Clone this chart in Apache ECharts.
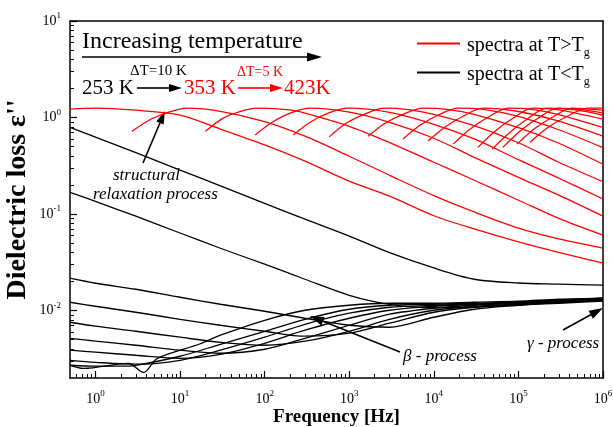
<!DOCTYPE html>
<html>
<head>
<meta charset="utf-8">
<script src="https://cdn.jsdelivr.net/npm/echarts@6/dist/echarts.min.js"></script>
<style>
  html, body { margin: 0; padding: 0; background: #fff; }
  #chart { width: 613px; height: 427px; }
</style>
</head>
<body>
<div id="chart"></div>
<script>
// [frequency in Hz, dielectric loss], one array per temperature
// spectra above Tg (353 K .. 423 K, step 5 K)
const red353 = [[0.5, 1.22], [1, 1.25], [3, 1.19], [10, 1.06], [30, 0.76], [100, 0.52], [300, 0.353], [1e3, 0.219], [3e3, 0.153], [1e4, 0.096], [3e4, 0.070], [1e5, 0.0514], [3e5, 0.040], [1e6, 0.031]];
const red358 = [[2.7, 0.72], [4.5, 0.96], [7, 1.12], [12, 1.25], [30, 1.16], [100, 0.905], [300, 0.64], [1e3, 0.397], [3e3, 0.252], [1e4, 0.155], [3e4, 0.105], [1e5, 0.0714], [3e5, 0.0552], [1e6, 0.0443]];
const red363 = [[20, 0.72], [32, 0.98], [52, 1.16], [84, 1.25], [200, 1.2], [300, 1.11], [1e3, 0.81], [3e3, 0.55], [1e4, 0.344], [3e4, 0.224], [1e5, 0.139], [3e5, 0.090], [1e6, 0.0603]];
const red368 = [[77, 0.66], [123, 0.894], [200, 1.11], [345, 1.25], [1e3, 1.135], [3e3, 0.89], [1e4, 0.61], [3e4, 0.387], [1e5, 0.24], [3e5, 0.157], [1e6, 0.095]];
const red373 = [[218, 0.66], [345, 0.894], [564, 1.11], [970, 1.25], [3e3, 1.13], [1e4, 0.85], [3e4, 0.60], [1e5, 0.366], [3e5, 0.235], [1e6, 0.143]];
const red378 = [[580, 0.63], [920, 0.873], [1500, 1.08], [2580, 1.25], [5000, 1.21], [1e4, 1.08], [3e4, 0.822], [1e5, 0.548], [3e5, 0.344], [1e6, 0.216]];
const red383 = [[1670, 0.64], [2650, 0.873], [4320, 1.08], [7450, 1.25], [1.5e4, 1.21], [3e4, 1.08], [1e5, 0.784], [3e5, 0.541], [1e6, 0.328]];
const red388 = [[4330, 0.60], [6870, 0.833], [11200, 1.056], [19300, 1.25], [4e4, 1.21], [1e5, 1.03], [3e5, 0.747], [1e6, 0.487]];
const red393 = [[8550, 0.57], [13500, 0.793], [22100, 1.03], [38100, 1.25], [1e5, 1.154], [3e5, 0.915], [1e6, 0.64]];
const red398 = [[16900, 0.53], [26700, 0.757], [43700, 1.007], [75200, 1.25], [1.5e5, 1.21], [3e5, 1.074], [1e6, 0.788]];
const red403 = [[33200, 0.49], [52800, 0.721], [86100, 0.983], [148000, 1.25], [3e5, 1.2], [1e6, 0.96]];
const red408 = [[48700, 0.47], [77200, 0.688], [126000, 0.96], [217000, 1.25], [5e5, 1.19], [1e6, 1.05]];
const red413 = [[65600, 0.49], [104000, 0.721], [170000, 0.983], [292000, 1.25], [6e5, 1.2], [1e6, 1.11]];
const red418 = [[96000, 0.53], [152000, 0.757], [249000, 1.0], [429000, 1.25], [1e6, 1.19]];
const red423 = [[137000, 0.555], [217000, 0.775], [354000, 1.0], [661000, 1.25], [1e6, 1.25]];

// spectra below Tg (253 K .. 343 K, step 10 K)
const black253 = [[0.5, 0.00271], [0.72, 0.00252], [2.45, 0.00284], [3.7, 0.00229], [5.4, 0.0032], [17, 0.0045], [30, 0.00555], [100, 0.00793], [300, 0.01007], [1e3, 0.01135], [3e3, 0.0119], [1e4, 0.0119], [3e4, 0.01219], [1e5, 0.01248], [3e5, 0.01309], [1e6, 0.01341]];
const black263 = [[0.5, 0.00271], [1, 0.00265], [2, 0.00265], [3, 0.00271], [10, 0.00336], [30, 0.00447], [100, 0.0061], [300, 0.00812], [1e3, 0.01031], [3e3, 0.01135], [1e4, 0.01162], [3e4, 0.0119], [1e5, 0.01219], [3e5, 0.01278], [1e6, 0.01341]];
const black273 = [[0.5, 0.00305], [1, 0.00291], [3, 0.00278], [10, 0.00305], [30, 0.00388], [100, 0.00529], [300, 0.00721], [1e3, 0.00938], [3e3, 0.01082], [1e4, 0.01135], [3e4, 0.01162], [1e5, 0.01219], [3e5, 0.01278], [1e6, 0.01341]];
const black283 = [[0.5, 0.00388], [1, 0.0037], [3, 0.00344], [10, 0.0032], [30, 0.00352], [100, 0.00458], [300, 0.00625], [1e3, 0.00832], [3e3, 0.01007], [1e4, 0.01108], [3e4, 0.01162], [1e5, 0.0119], [3e5, 0.01248], [1e6, 0.01309]];
const black293 = [[0.5, 0.00516], [1, 0.00481], [3, 0.00437], [10, 0.00388], [30, 0.00361], [100, 0.00397], [300, 0.00516], [1e3, 0.00704], [3e3, 0.00916], [1e4, 0.01056], [3e4, 0.01135], [1e5, 0.0119], [3e5, 0.01248], [1e6, 0.01309]];
const black303 = [[0.5, 0.00756], [1, 0.00688], [3, 0.0061], [10, 0.00529], [30, 0.00469], [100, 0.00437], [300, 0.00481], [1e3, 0.0061], [3e3, 0.00812], [1e4, 0.01007], [3e4, 0.01108], [1e5, 0.01162], [3e5, 0.01219], [1e6, 0.01278]];
const black313 = [[0.5, 0.01219], [1, 0.01108], [3, 0.0096], [10, 0.00812], [30, 0.00704], [100, 0.0061], [300, 0.00542], [1e3, 0.00582], [3e3, 0.00739], [1e4, 0.0096], [3e4, 0.01082], [1e5, 0.01162], [3e5, 0.01219], [1e6, 0.01278]];
const black323 = [[0.5, 0.02162], [1, 0.01918], [3, 0.01662], [10, 0.01373], [30, 0.01162], [100, 0.00983], [300, 0.00832], [1e3, 0.00704], [3e3, 0.00671], [1e4, 0.00852], [3e4, 0.01031], [1e5, 0.01135], [3e5, 0.01219], [1e6, 0.01278]];
const black333 = [[0.5, 0.168], [1, 0.135], [3, 0.0949], [10, 0.0636], [30, 0.0442], [100, 0.0302], [300, 0.0211], [1e3, 0.0144], [3e3, 0.0116], [1e4, 0.0107], [3e4, 0.0108], [1e5, 0.0114], [3e5, 0.0119], [1e6, 0.0125]];
const black343 = [[0.5, 0.79], [1, 0.625], [3, 0.432], [10, 0.285], [30, 0.196], [100, 0.129], [300, 0.0884], [1e3, 0.059], [3e3, 0.0398], [1e4, 0.0276], [3e4, 0.0211], [1e5, 0.0193], [3e5, 0.0188], [1e6, 0.0183]];

const redSpectra = [red353, red358, red363, red368, red373, red378, red383, red388, red393, red398, red403, red408, red413, red418, red423];
const blackSpectra = [black253, black263, black273, black283, black293, black303, black313, black323, black333, black343];

// axis ranges and decade ticks
const xMin = 0.5, xMax = 1e6;
const yMin = 0.002, yMax = 10;
const xDecades = [1, 10, 100, 1e3, 1e4, 1e5, 1e6];
const yDecades = [0.01, 0.1, 1, 10];

const FONT = "'Liberation Serif', 'Times New Roman', serif";
const RED = '#ff0000';
const INK = '#000000';

const lx0 = Math.log10(xMin), lx1 = Math.log10(xMax);
const ly0 = Math.log10(yMin), ly1 = Math.log10(yMax);

function minorTicks(lo, hi) {
  let out = [];
  for (let e = Math.floor(lo) - 1; e <= Math.ceil(hi); e++) {
    for (let k = 2; k <= 9; k++) {
      let v = Math.log10(k) + e;
      if (v > lo + 1e-9 && v < hi - 1e-9) out.push(v);
    }
  }
  return out;
}

function tickLabel(margin) {
  return {
    margin: margin,
    formatter: v => '{b|10}{s|' + Math.round(v) + '}',
    rich: {
      b: { fontFamily: FONT, fontSize: 14, lineHeight: 14, color: INK, verticalAlign: 'middle' },
      s: { fontFamily: FONT, fontSize: 9, lineHeight: 9, color: INK, verticalAlign: 'middle', padding: [0, 0, 10, 0] }
    }
  };
}

function mainAxis(lo, hi, major, pos, name, nameGap, nameSize, labelMargin) {
  return {
    type: 'value', min: lo, max: hi, position: pos,
    name: name, nameLocation: 'middle', nameGap: nameGap, nameMoveOverlap: false,
    nameTextStyle: { fontFamily: FONT, fontWeight: 'bold', fontSize: nameSize, color: INK },
    splitLine: { show: false },
    axisLine: { show: true, onZero: false, lineStyle: { color: INK, width: 1.5 } },
    axisTick: { show: true, inside: true, length: 7, customValues: major, lineStyle: { color: INK, width: 1.2 } },
    axisLabel: Object.assign({ customValues: major }, tickLabel(labelMargin))
  };
}

function minorAxis(lo, hi, pos) {
  return {
    type: 'value', min: lo, max: hi, position: pos,
    splitLine: { show: false },
    axisLine: { show: false, onZero: false },
    axisTick: { show: true, inside: true, length: 4, customValues: minorTicks(lo, hi), lineStyle: { color: INK, width: 1 } },
    axisLabel: { show: false }
  };
}

function frameAxis(lo, hi, pos) {
  return {
    type: 'value', min: lo, max: hi, position: pos,
    splitLine: { show: false },
    axisLine: { show: true, onZero: false, lineStyle: { color: INK, width: 1.5 } },
    axisTick: { show: false },
    axisLabel: { show: false }
  };
}

const toLog = p => [Math.log10(p[0]), Math.log10(p[1])];

let series = [];
blackSpectra.forEach(c => series.push({
  name: 'spectra at T<Tg', type: 'line', data: c.map(toLog),
  showSymbol: false, symbol: 'none', smooth: 0.3, silent: true,
  lineStyle: { color: INK, width: 1.3 }, itemStyle: { color: INK }
}));
redSpectra.forEach(c => series.push({
  name: 'spectra at T>Tg', type: 'line', data: c.map(toLog),
  showSymbol: false, symbol: 'none', smooth: 0.3, silent: true,
  lineStyle: { color: RED, width: 1.3 }, itemStyle: { color: RED }
}));

function label(text, x, y, size, color, italic) {
  return {
    type: 'text', silent: true,
    style: {
      text: text, x: x, y: y, fill: color, verticalAlign: 'middle',
      font: (italic ? 'italic ' : '') + size + 'px ' + FONT
    }
  };
}

function arrow(x1, y1, x2, y2, color, len, half) {
  let a = Math.atan2(y2 - y1, x2 - x1);
  let bx = x2 - len * Math.cos(a), by = y2 - len * Math.sin(a);
  let nx = -Math.sin(a) * half, ny = Math.cos(a) * half;
  return [
    { type: 'line', silent: true, shape: { x1: x1, y1: y1, x2: bx, y2: by }, style: { stroke: color, lineWidth: 1.6 } },
    { type: 'polygon', silent: true, shape: { points: [[x2, y2], [bx + nx, by + ny], [bx - nx, by - ny]] }, style: { fill: color } }
  ];
}

const notes = [
  label('Increasing temperature', 82, 42, 24, INK),
  ...arrow(82, 57, 322, 57, INK, 15, 4.5),
  label('253 K', 82, 88.5, 21, INK),
  ...arrow(137, 88, 182, 88, INK, 13, 4),
  label('\u0394T=10 K', 130, 71, 15, INK),
  label('353 K', 184, 88.5, 21, RED),
  ...arrow(238, 88, 283, 88, RED, 13, 4),
  label('\u0394T=5 K', 237, 72, 14, RED),
  label('423K', 284, 88.5, 21, RED),
  label('structural', 113, 176, 17, INK, true),
  label('relaxation process', 93, 195, 17, INK, true),
  ...arrow(143, 163, 165, 111, INK, 13, 4),
  label('\u03b2 - process', 403, 357, 17, INK, true),
  ...arrow(400, 352, 310, 316, INK, 14, 4.5),
  label('\u03b3 - process', 527, 344, 17, INK, true),
  ...arrow(563, 330, 603, 308, INK, 14, 4.5)
];

const chart = echarts.init(document.getElementById('chart'));
chart.setOption({
  animation: false,
  backgroundColor: '#fff',
  grid: { left: 70, right: 10, top: 21, bottom: 49, outerBoundsMode: 'none', containLabel: false },
  legend: {
    orient: 'vertical', left: 417, top: 30, padding: 0, itemWidth: 43, itemHeight: 2, itemGap: 0,
    icon: 'rect', selectedMode: false,
    data: ['spectra at T>Tg', 'spectra at T<Tg'],
    formatter: n => n.slice(0, -1) + '{sub|g}',
    textStyle: {
      fontFamily: FONT, fontSize: 20, color: INK, lineHeight: 22, padding: [5, 0, 0, 2],
      rich: { sub: { fontFamily: FONT, fontSize: 12, color: INK, padding: [14, 0, 0, 0] } }
    }
  },
  xAxis: [
    mainAxis(lx0, lx1, xDecades.map(Math.log10), 'bottom', 'Frequency [Hz]', 30, 19, 14),
    minorAxis(lx0, lx1, 'bottom'),
    frameAxis(lx0, lx1, 'top')
  ],
  yAxis: [
    mainAxis(ly0, ly1, yDecades.map(Math.log10), 'left', "Dielectric loss \u03b5''", 38, 28, 9),
    minorAxis(ly0, ly1, 'left'),
    frameAxis(ly0, ly1, 'right')
  ],
  series: series,
  graphic: notes
});
</script>
</body>
</html>
